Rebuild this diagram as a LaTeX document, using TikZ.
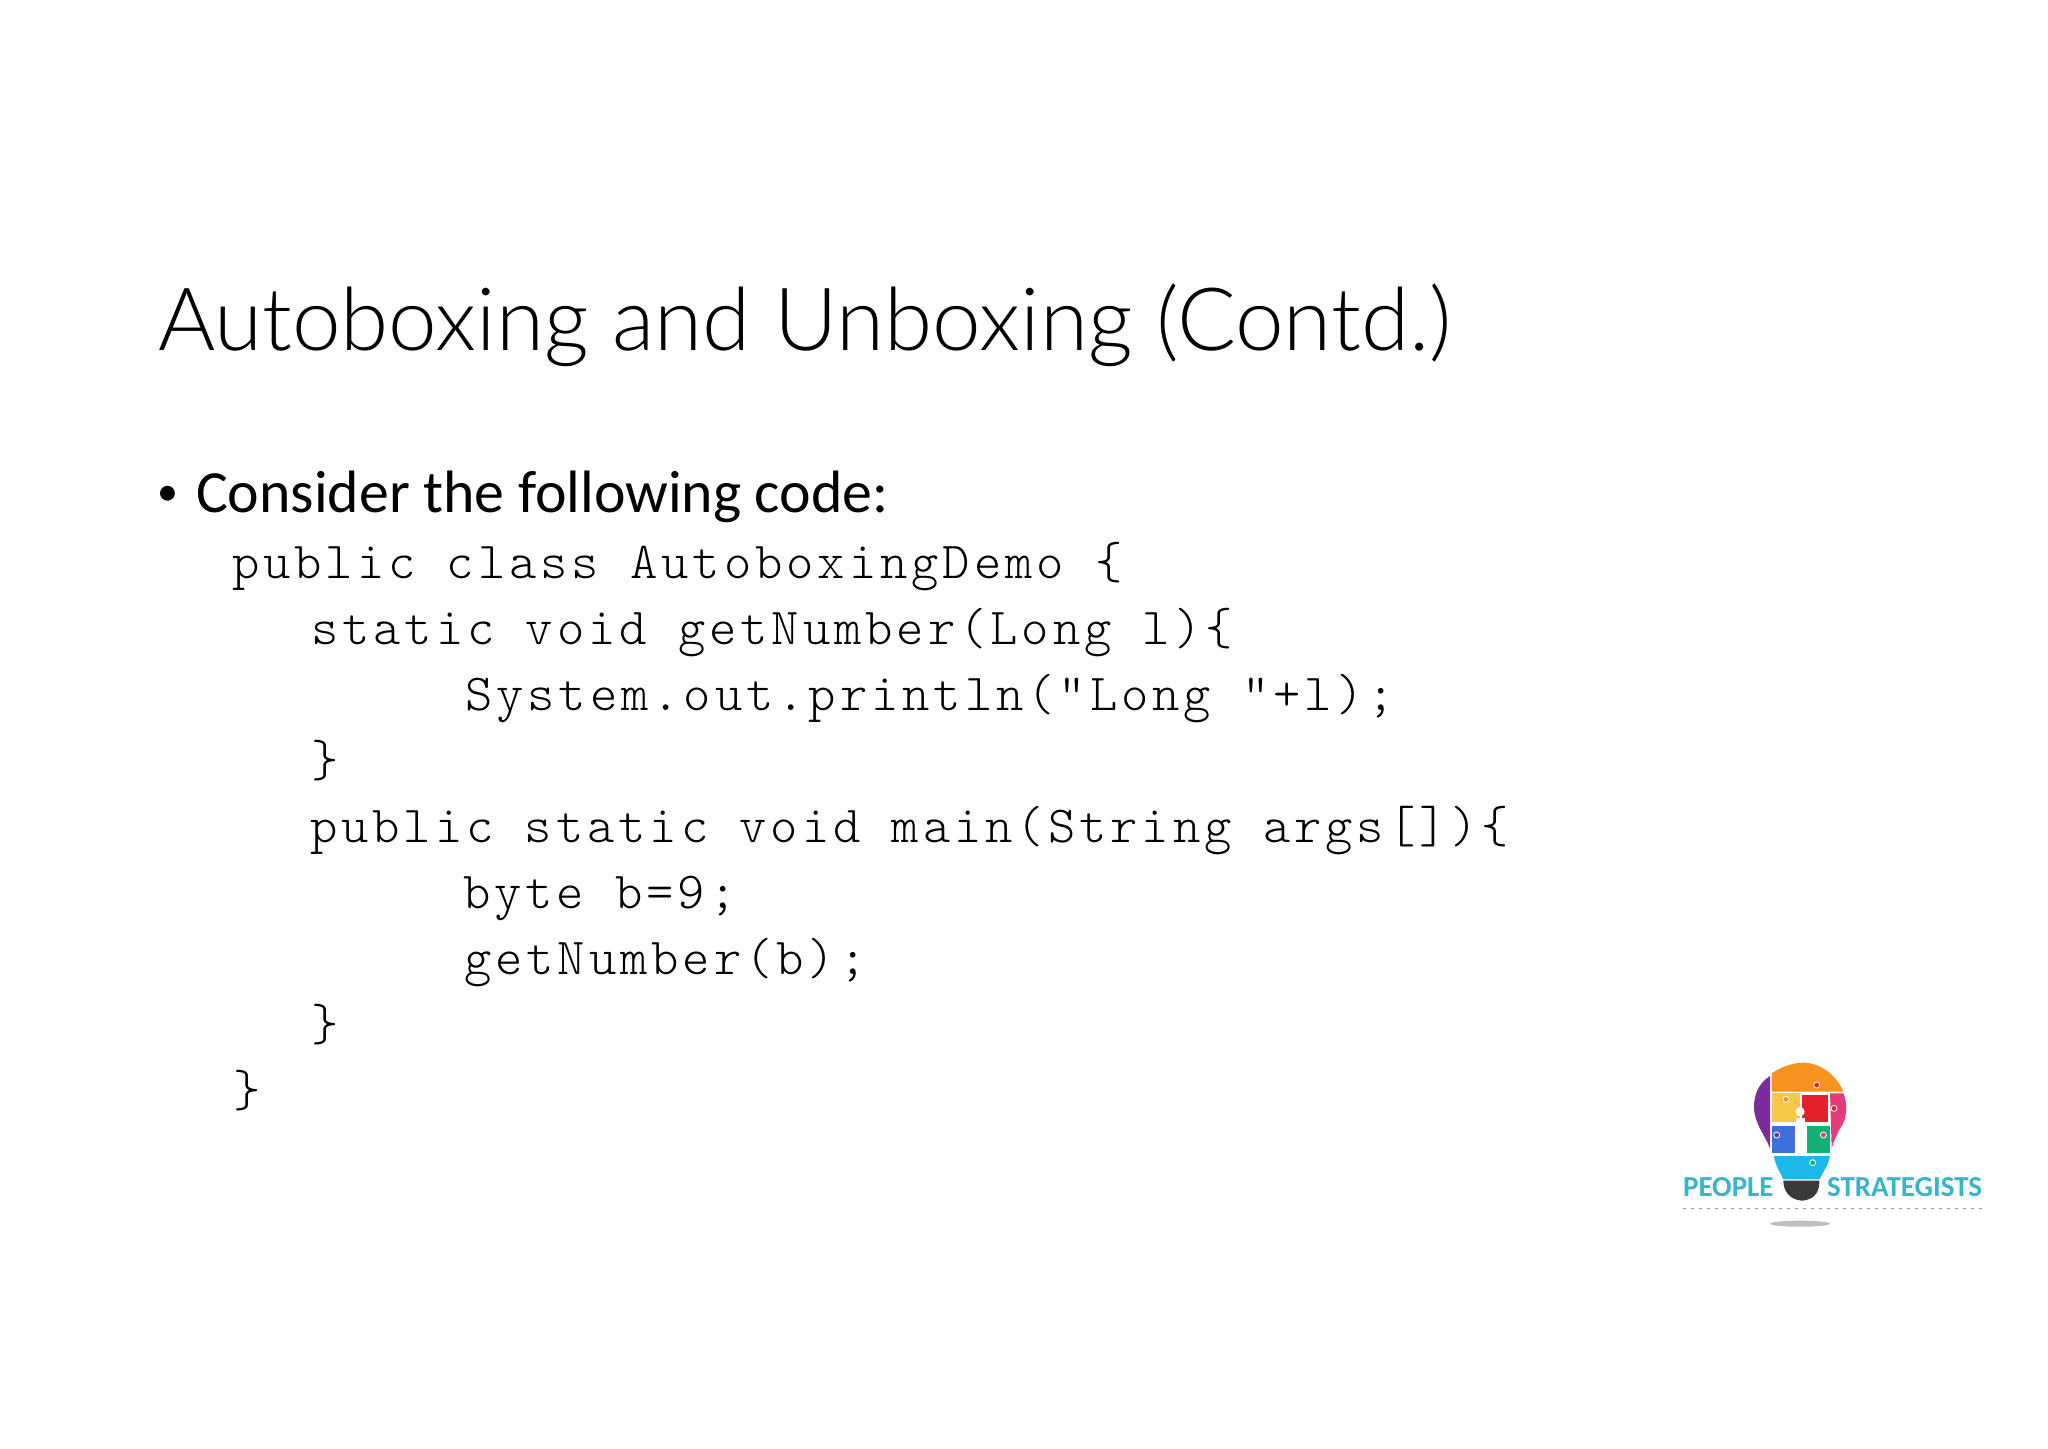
\documentclass[tikz,border=0pt]{standalone}
\usepackage{fontspec}
\setmainfont{Carlito}
\newfontfamily\titlefont{Lato Light}
\newfontfamily\codefont{Latin Modern Mono Light}[LetterSpace=7.6]
\tikzset{
  every label text/.style={inner sep=0pt, outer sep=0pt, anchor=base west, text=black},
  title text/.style={every label text, font=\titlefont\fontsize{43.65}{44}\selectfont},
  body text/.style={every label text, font=\fontsize{29.9}{30}\selectfont},
  bullet text/.style={every label text, font=\fontsize{21}{21}\selectfont},
  code text/.style={every label text, font=\codefont\fontsize{26}{26}\selectfont},
  logo text/.style={inner sep=0pt, anchor=base west, text=logoblue, font=\bfseries\fontsize{14.5}{14.5}\selectfont},
}
\definecolor{logoblue}{HTML}{38B4CC}
\definecolor{logoorange}{HTML}{F7931E}
\definecolor{logopurple}{HTML}{7B2D9E}
\definecolor{logoyellow}{HTML}{F9C846}
\definecolor{logored}{HTML}{E5202A}
\definecolor{logopink}{HTML}{E63B7A}
\definecolor{logoiris}{HTML}{3F6FD8}
\definecolor{logogreen}{HTML}{12B076}
\definecolor{logocyan}{HTML}{1CB9EA}
\definecolor{logobase}{HTML}{3A3A3C}
\begin{document}
\begin{tikzpicture}[x=0.5pt, y=0.5pt]
\useasboundingbox [fill=white] (0,0) rectangle (2048,-1448);
\node [title text] (title) at (158,-350) {Autoboxing and Unboxing (Contd.)};
\node [bullet text] (bullet) at (157,-505) {•};
\node [body text] (intro) at (196,-512) {Consider the following code:};
\foreach \x/\l [count=\i] in {
  232/{public class AutoboxingDemo \{},
  311/{static void getNumber(Long l)\{},
  465/{System.out.println("Long "+l);},
  311/{\}},
  310/{public static void main(String args[])\{},
  463/{byte b=9;},
  464/{getNumber(b);},
  311/{\}},
  233/{\}}}
  \node [code text] (code-\i) at (\x,-578-66*\i+66) {\l};
% logo, in units of a third of a pixel
\begin{scope}[shift={(1660,-1040)}, x=0.16667pt, y=-0.16667pt]
\fill [logopurple] (330,108) .. controls (295,130) and (282,165) .. (282,200) .. controls (282,250) and (315,285) .. (330,325) -- cycle;
\fill [logoorange] (335,155) -- (335,100) .. controls (370,75) and (410,68) .. (430,68) .. controls (480,68) and (530,105) .. (550,155) -- cycle;
\fill [logoyellow] (335,160) rectangle (420,245);
\fill [logored] (425,165) rectangle (505,245);
\fill [logopink] (510,160) -- (550,160) .. controls (565,195) and (560,240) .. (540,265) .. controls (530,285) and (520,305) .. (515,325) -- cycle;
\fill [logoiris] (335,258) rectangle (405,340);
\fill [logogreen] (440,258) rectangle (510,340);
\fill [white] (408,235) rectangle (436,340);
\fill [white!90!logoyellow] (420,215) circle (14);
\fill [logocyan] (342,348) -- (510,348) .. controls (505,375) and (490,395) .. (478,418) -- (370,418) .. controls (360,395) and (345,375) .. cycle;
\fill [logobase] (370,422) -- (478,422) .. controls (478,450) and (470,478) .. (425,482) .. controls (385,478) and (370,450) .. cycle;
% puzzle tabs
\foreach \px/\py/\c in {470/135/logored, 378/178/logoorange, 522/205/logored, 350/285/logopurple, 490/285/logopink, 458/368/logogreen}
  \fill [\c, draw=white, line width=0.4pt] (\px,\py) circle (9);
\node [logo text] (people) at (68,470) {PEOPLE};
\node [logo text] (strategists) at (500,470) {STRATEGISTS};
\draw [black!40, line width=0.6pt, dash pattern=on 1.5pt off 2.5pt] (70,505) -- (965,505);
\fill [black!25] (420,551) ellipse (90 and 9);
\end{scope}
\end{tikzpicture}
\end{document}
